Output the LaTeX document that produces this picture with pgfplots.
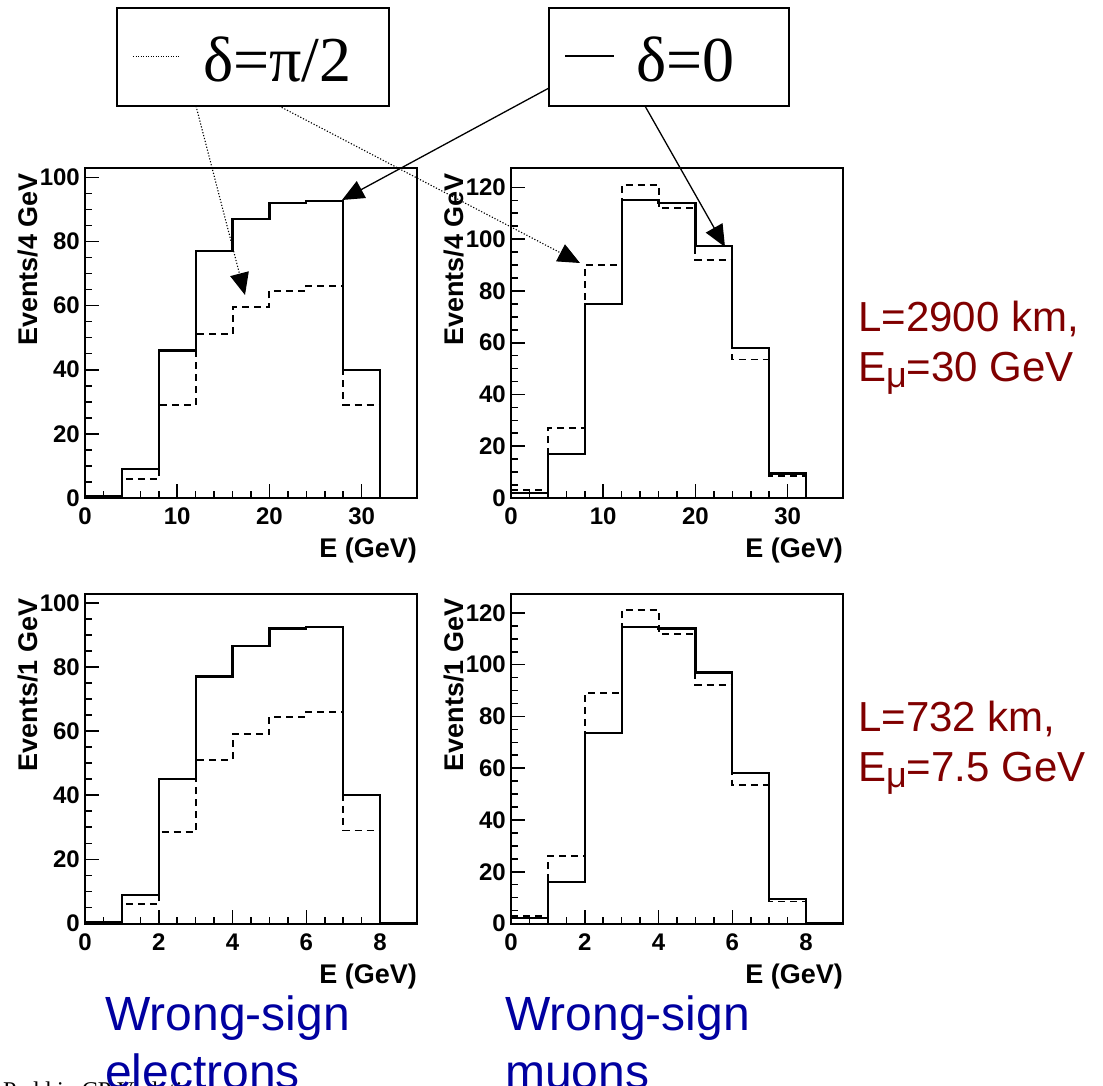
\documentclass[border=0pt]{standalone}
\usepackage{pgfplots}
\pgfplotsset{compat=1.18}
\usepackage{fontspec}
\setmainfont{Liberation Sans}
\newfontfamily\seriffont{Liberation Serif}
\usetikzlibrary{arrows.meta}
\definecolor{darkred}{RGB}{128,0,0}
\definecolor{wsblue}{RGB}{0,0,160}

\newcommand{\tickfont}{\fontsize{24}{24}\selectfont\bfseries}
\pgfplotsset{
  rootaxis/.style={
    anchor=south west, width=332pt, height=330pt, scale only axis,
    ymin=0, xmin=0,
    axis line style={line width=2pt},
    tick style={black, line width=1.6pt},
    major tick length=14pt, minor tick length=7pt,
    tick align=inside, xtick pos=left, ytick pos=left,
    /pgf/number format/assume math mode=true,
    xticklabel style={font=\tickfont, inner sep=0pt, yshift=-10pt, anchor=north},
    yticklabel style={font=\tickfont, inner sep=0pt, xshift=-5pt, anchor=east},
    xlabel style={at={(axis description cs:1,0)}, anchor=north east, inner sep=0pt, yshift=-40pt, font=\fontsize{27}{27}\selectfont\bfseries},
    ylabel style={at={(axis description cs:-0.2018,0.985)}, anchor=north east, inner sep=0pt, font=\fontsize{27}{27}\selectfont\bfseries},
    xlabel={E (GeV)},
    minor y tick num=3,
  },
  solidh/.style={const plot, black, line width=2.2pt},
  dashh/.style={const plot, black, line width=1.9pt, dash pattern=on 7pt off 5pt},
}

\begin{document}
\begin{tikzpicture}
\useasboundingbox (0pt,0pt) rectangle (1103pt,-1086pt);

% top-left: wrong-sign electrons, L=2900 km
\begin{axis}[rootaxis, at={(85pt,-498pt)}, xmax=36, ymax=102.9,
  xtick={0,10,20,30}, minor x tick num=4, ytick={0,20,...,100},
  ylabel={Events/4 GeV}]
\addplot[dashh] coordinates {(0,0)(4,6)(8,29)(12,51)(16,59.5)(20,64.5)(24,66)(28,29)(32,0)(36,0)};
\addplot[solidh] coordinates {(0,0.5)(4,9)(8,46)(12,77)(16,87)(20,92)(24,92.5)(28,40)(32,0)(36,0)};
\end{axis}

% top-right: wrong-sign muons, L=2900 km
\begin{axis}[rootaxis, at={(511pt,-498pt)}, xmax=36, ymax=127.5,
  xtick={0,10,20,30}, minor x tick num=4, ytick={0,20,...,120},
  ylabel={Events/4 GeV}]
\addplot[dashh] coordinates {(0,3)(4,27)(8,90)(12,121)(16,112)(20,92)(24,53.5)(28,8.5)(32,0)(36,0)};
\addplot[solidh] coordinates {(0,2)(4,17)(8,75)(12,115)(16,114)(20,97.5)(24,58)(28,9.5)(32,0)(36,0)};
\end{axis}

% bottom-left: wrong-sign electrons, L=732 km
\begin{axis}[rootaxis, at={(85pt,-923.5pt)}, xmax=9, ymax=102.9,
  xtick={0,2,4,6,8}, minor x tick num=3, ytick={0,20,...,100},
  ylabel={Events/1 GeV}]
\addplot[dashh] coordinates {(0,0)(1,6)(2,28.5)(3,51)(4,59)(5,64.5)(6,66)(7,29)(8,0)(9,0)};
\addplot[solidh] coordinates {(0,0.5)(1,9)(2,45)(3,77)(4,86.5)(5,92)(6,92.5)(7,40)(8,0)(9,0)};
\end{axis}

% bottom-right: wrong-sign muons, L=732 km
\begin{axis}[rootaxis, at={(511pt,-923.5pt)}, xmax=9, ymax=127.5,
  xtick={0,2,4,6,8}, minor x tick num=3, ytick={0,20,...,120},
  ylabel={Events/1 GeV}]
\addplot[dashh] coordinates {(0,3)(1,26)(2,89)(3,121)(4,112)(5,92)(6,53.5)(7,8.5)(8,0)(9,0)};
\addplot[solidh] coordinates {(0,2)(1,16)(2,73.5)(3,114.5)(4,114)(5,97)(6,58)(7,9.5)(8,0)(9,0)};
\end{axis}

% legend boxes
\draw[line width=1.5pt, fill=white] (117pt,-8pt) rectangle (389pt,-106pt);
\draw[line width=1pt, dash pattern=on 1pt off 1.5pt] (133pt,-57pt) -- (179pt,-57pt);
\node[anchor=base west, inner sep=0pt, font=\seriffont\fontsize{64}{64}\selectfont] at (203pt,-82pt) {δ=π/2};

\draw[line width=1.5pt, fill=white] (549pt,-8pt) rectangle (789pt,-106pt);
\draw[line width=1.3pt] (565pt,-56pt) -- (614pt,-56pt);
\node[anchor=base west, inner sep=0pt, font=\seriffont\fontsize{64}{64}\selectfont] at (636pt,-82pt) {δ=0};

% arrows
\draw[line width=1.1pt, dash pattern=on 1.2pt off 1.8pt, -{Triangle[length=22pt,width=19pt]}] (196pt,-106pt) -- (245pt,-295pt);
\draw[line width=1.1pt, dash pattern=on 1.2pt off 1.8pt, -{Triangle[length=22pt,width=19pt]}] (279pt,-106pt) -- (580pt,-263pt);
\draw[line width=1.3pt, -{Triangle[length=22pt,width=19pt]}] (549pt,-88pt) -- (342pt,-200pt);
\draw[line width=1.3pt, -{Triangle[length=22pt,width=19pt]}] (645pt,-106pt) -- (725pt,-247pt);

% right-hand annotations
\node[anchor=base west, inner sep=0pt, font=\fontsize{42}{42}\selectfont, text=darkred] at (858pt,-331.7pt) {L=2900 km,};
\node[anchor=base west, inner sep=0pt, font=\fontsize{42}{42}\selectfont, text=darkred] at (858pt,-381.7pt) {E\raisebox{-6pt}{\fontsize{36}{36}\selectfont μ}=30 GeV};
\node[anchor=base west, inner sep=0pt, font=\fontsize{42}{42}\selectfont, text=darkred] at (858pt,-731.7pt) {L=732 km,};
\node[anchor=base west, inner sep=0pt, font=\fontsize{42}{42}\selectfont, text=darkred] at (858pt,-781.7pt) {E\raisebox{-6pt}{\fontsize{36}{36}\selectfont μ}=7.5 GeV};

% footer (cut off at the page edge, as in the reference)
\node[anchor=base west, inner sep=0pt, font=\seriffont\fontsize{24}{24}\selectfont] at (3pt,-1098pt) {Pedd in CP Violation};

% bottom annotations
\node[anchor=base west, inner sep=0pt, font=\fontsize{48}{48}\selectfont, text=wsblue] at (105pt,-1030pt) {Wrong-sign};
\node[anchor=base west, inner sep=0pt, font=\fontsize{48}{48}\selectfont, text=wsblue] at (105pt,-1088pt) {electrons};
\node[anchor=base west, inner sep=0pt, font=\fontsize{48}{48}\selectfont, text=wsblue] at (505pt,-1030pt) {Wrong-sign};
\node[anchor=base west, inner sep=0pt, font=\fontsize{48}{48}\selectfont, text=wsblue] at (505pt,-1088pt) {muons};
\end{tikzpicture}
\end{document}
